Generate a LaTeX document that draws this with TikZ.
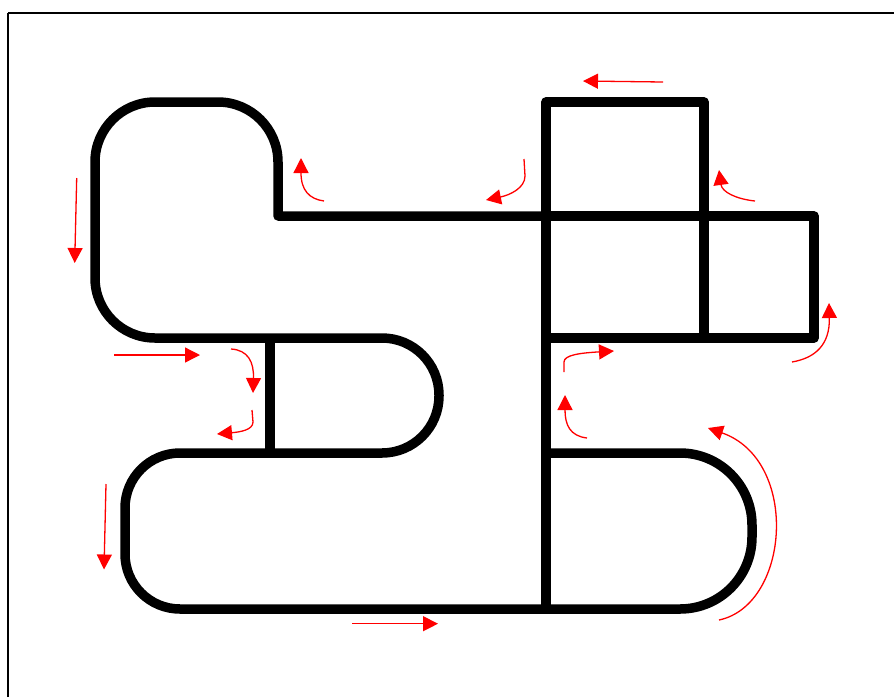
\documentclass[tikz,border=0pt]{standalone}
\usetikzlibrary{arrows.meta}
\begin{document}
\begin{tikzpicture}[x=1pt,y=-1pt,
  track/.style={draw=black,line width=9.5pt,line join=round},
  frameline/.style={draw=black,line width=2.5pt},
  redarrow/.style={draw=red,line width=1.3pt,-{Triangle[length=15pt,width=15pt]},fill=none}]
\fill[white] (0,0) rectangle (894,697);
\useasboundingbox (0,0) rectangle (894,697);
% frame
\draw[frameline] (8,697) -- (8,13);
\draw[frameline] (8,13) -- (894,13);
% track
\draw[track] (546,216) -- (278,216) [rounded corners=60pt] -- (278,102) -- (95,102) -- (95,338)
  [rounded corners=57pt] -- (439,338) -- (439,453) [rounded corners=55pt] -- (125,453) -- (125,609)
  [rounded corners=72pt] -- (752,609) -- (752,453) [sharp corners] -- (546,453);
\draw[track] (546,609) -- (546,102) -- (704,102) -- (704,338);
\draw[track] (546,216) -- (814,216) -- (814,338) -- (546,338);
\draw[track] (270,338) -- (270,453);
% red arrows
\draw[redarrow] (76.7,178) -- (74.7,263);
\draw[redarrow] (324,201) .. controls (309,199) and (301,190) .. (301,158);
\draw[redarrow] (663,82) -- (583,81);
\draw[redarrow] (524,159) -- (525,176) .. controls (525,188) and (510,195) .. (486,200);
\draw[redarrow] (755,201) .. controls (736,199) and (722,192) .. (719,170);
\draw[redarrow] (792,362) .. controls (815,358) and (830,345) .. (829,303);
\draw[redarrow] (114,355) -- (200,355);
\draw[redarrow] (231,349) .. controls (248,350) and (254,362) .. (253,393);
\draw[redarrow] (252,410) -- (253,422) .. controls (253,430) and (240,432) .. (217,434);
\draw[redarrow] (106,484) -- (104,569.5);
\draw[redarrow] (352,623.7) -- (438,623.7);
\draw[redarrow] (564,372) -- (564,362) .. controls (564,355) and (580,353) .. (614,351);
\draw[redarrow] (587,438) .. controls (570,436) and (565,425) .. (565,395);
\draw[redarrow] (719,620) .. controls (790,605) and (800,460) .. (708,428);
\end{tikzpicture}
\end{document}
